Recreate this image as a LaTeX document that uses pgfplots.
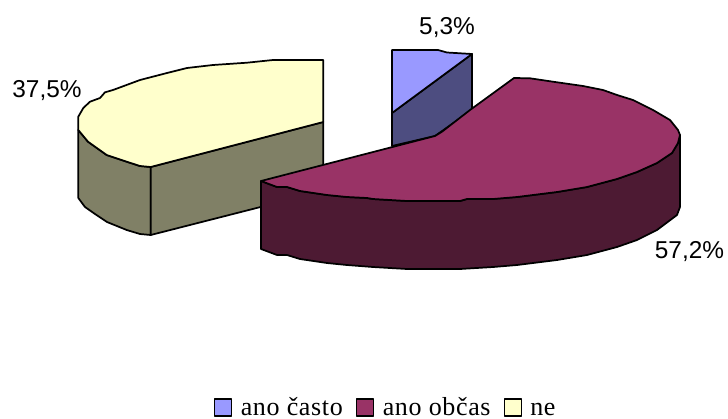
\documentclass[border=0pt]{standalone}
\usepackage{pgfplots}
\pgfplotsset{compat=1.18}
\usepackage{fontspec}
\setmainfont{Liberation Sans}
\newfontfamily\legendfont[LetterSpace=2.5]{Liberation Serif}
\definecolor{bluetop}{HTML}{9999FF}
\definecolor{blueside}{HTML}{4D4D80}
\definecolor{maroontop}{HTML}{993366}
\definecolor{maroonside}{HTML}{4D1A33}
\definecolor{yellowtop}{HTML}{FFFFCC}
\definecolor{yellowside}{HTML}{808066}
\begin{document}
\begin{tikzpicture}
\useasboundingbox (0,0) rectangle (546pt,313.5pt);
\begin{axis}[
  at={(0,0)}, anchor=south west,
  scale only axis, width=546pt, height=313.5pt,
  xmin=0, xmax=728, ymin=0, ymax=418, y dir=reverse,
  hide axis, clip=false,
  every axis plot/.append style={draw=black, line width=1.3pt, line join=round, mark=none},
]
% "ne" slice: outer wall, cut face, top
\addplot[fill=yellowside] coordinates {(78.3,130)(78.3,198)(85,207)(95,214)(107,222)(126.7,230)(140,234)(150.7,235)(150.7,167)(140,166)(126.7,161.7)(106.7,155)(88,141.7)} --cycle;
\addplot[fill=yellowside] coordinates {(150.7,167)(150.7,235)(323.3,191)(323.3,122)} --cycle;
\addplot[fill=yellowtop] coordinates {(323.3,60)(323.3,122)(150.7,167)(140,166)(126.7,161.7)(106.7,155)(88,141.7)(78.3,130)(78.3,116.7)(83.3,108)(90,101.7)(100,98)(105,92.3)(113,90)(140,80)(167,73)(187,68)(213,65)(247,62.7)(273,60)} --cycle;
% "ano casto" slice: cut face, top
\addplot[fill=blueside] coordinates {(392,113)(472,54)(472,110)(435,136)(392,146)} --cycle;
\addplot[fill=bluetop] coordinates {(392,50)(438,50)(447,52.5)(472,54)(392,113)} --cycle;
% "ano obcas" slice: outer wall, top
\addplot[fill=maroonside] coordinates {(261,181)(261,249)(277,255)(287,255)(300,259)(327,263)(347,265)(373,267)(407,269)(460,269)(493,267)(517,265)(557,260)(587,255)(617,247)(637,240)(657,230)(677,215)(680,207)(680,135)(678,143)(672,153)(657,163)(637,172)(617,179)(587,187)(557,192)(517,197)(493,199)(467,199)(460,201)(407,201)(373,199)(367,198)(347,197)(327,195)(300,191)(287,187)(277,187)} --cycle;
\addplot[fill=maroontop] coordinates {(261,181)(435,136)(442,131.7)(470,110)(514,78)(530,78.3)(553,81.7)(583,86)(603,90)(617,95)(633,100)(653,110)(670,120)(678,130)(680,135)(678,143)(672,153)(657,163)(637,172)(617,179)(587,187)(557,192)(517,197)(493,199)(467,199)(460,201)(407,201)(373,199)(367,198)(347,197)(327,195)(300,191)(287,187)(277,187)} --cycle;
% legend swatches
\addplot[fill=bluetop] coordinates {(214.5,399)(231.5,399)(231.5,416)(214.5,416)} --cycle;
\addplot[fill=maroontop] coordinates {(356.5,399)(373.5,399)(373.5,416)(356.5,416)} --cycle;
\addplot[fill=yellowtop] coordinates {(504.5,399)(521.5,399)(521.5,416)(504.5,416)} --cycle;
% data labels
\node[anchor=base, font=\fontsize{18.3}{20}\selectfont, inner sep=0pt] at (axis cs:447,34) {5,3\%};
\node[anchor=base, font=\fontsize{18.3}{20}\selectfont, inner sep=0pt] at (axis cs:47,97) {37,5\%};
\node[anchor=base, font=\fontsize{18.3}{20}\selectfont, inner sep=0pt] at (axis cs:689.5,258) {57,2\%};
% legend text
\node[anchor=base west, font=\legendfont\fontsize{19.5}{22}\selectfont, inner sep=0pt] at (axis cs:240.5,415.5) {ano často};
\node[anchor=base west, font=\legendfont\fontsize{19.5}{22}\selectfont, inner sep=0pt] at (axis cs:382.5,415.5) {ano občas};
\node[anchor=base west, font=\legendfont\fontsize{19.5}{22}\selectfont, inner sep=0pt] at (axis cs:530,415.5) {ne};
\end{axis}
\end{tikzpicture}
\end{document}
